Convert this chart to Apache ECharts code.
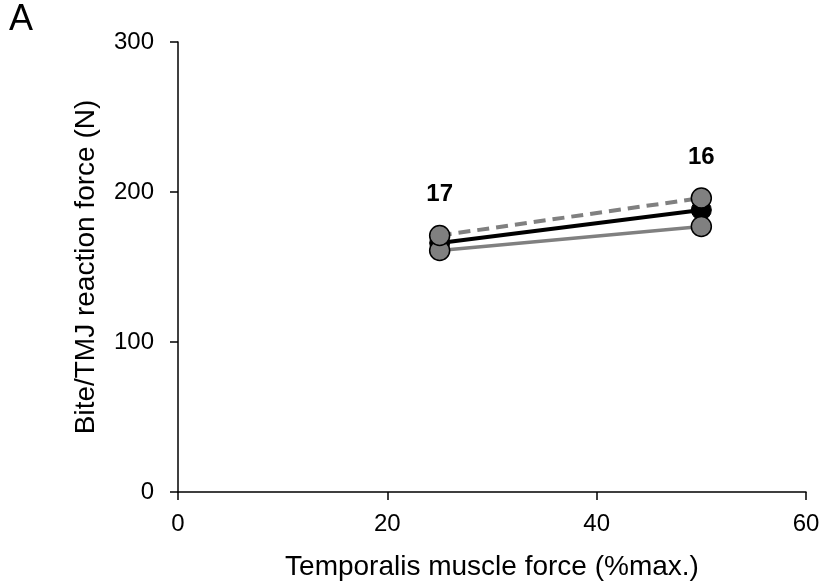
<!DOCTYPE html>
<html><head><meta charset="utf-8">
<script src="https://cdn.jsdelivr.net/npm/echarts@6/dist/echarts.min.js"></script>
<style>html,body{margin:0;padding:0;background:#fff}#c{width:826px;height:587px}</style>
</head><body><div id="c"></div>
<script>
const xValues = [25, 50];
const blackSolid = [166, 188];
const grayDashed = [171, 196];
const graySolid = [161, 177];
const pointLabels = ['17', '16'];
const xTicks = [0, 20, 40, 60];
const yTicks = [0, 100, 200, 300];

const F = 'Liberation Sans, Arial, sans-serif';
const chart = echarts.init(document.getElementById('c'));
function pts(vals, withLabels) {
  return xValues.map((x, i) => {
    const d = { value: [x, vals[i]] };
    if (withLabels) d.label = { show: true, formatter: pointLabels[i] };
    return d;
  });
}
const marker = { color: '#808080', borderColor: '#000', borderWidth: 1.5 };
chart.setOption({
  animation: false,
  grid: { left: 178, top: 42, right: 20, bottom: 95, containLabel: false, outerBoundsMode: 'none' },
  graphic: [{ type: 'text', left: 9, top: 2, style: { text: 'A', font: '36px ' + F, fill: '#000' } }],
  xAxis: {
    type: 'value', min: 0, max: 60, interval: 20,
    name: 'Temporalis muscle force (%max.)', nameLocation: 'middle', nameGap: 61,
    nameTextStyle: { fontFamily: F, fontSize: 28, color: '#000' },
    axisLine: { lineStyle: { color: '#000', width: 1.5 } },
    axisTick: { show: true, length: 8, lineStyle: { color: '#000', width: 1.5 } },
    axisLabel: { fontFamily: F, fontSize: 24, color: '#000', margin: 20 },
    splitLine: { show: false }
  },
  yAxis: {
    type: 'value', min: 0, max: 300, interval: 100,
    name: 'Bite/TMJ reaction force (N)', nameLocation: 'middle', nameGap: 78,
    nameTextStyle: { fontFamily: F, fontSize: 28, color: '#000' },
    axisLine: { show: true, lineStyle: { color: '#000', width: 1.5 } },
    axisTick: { show: true, length: 8, lineStyle: { color: '#000', width: 1.5 } },
    axisLabel: { fontFamily: F, fontSize: 24, color: '#000', margin: 24 },
    splitLine: { show: false }
  },
  series: [
    { type: 'line', data: pts(blackSolid), symbol: 'circle', symbolSize: 20, z: 2,
      lineStyle: { color: '#000', width: 4 }, itemStyle: { color: '#000', borderColor: '#000' } },
    { type: 'line', data: pts(graySolid), symbol: 'circle', symbolSize: 20, z: 3,
      lineStyle: { color: '#808080', width: 3.5 }, itemStyle: marker },
    { type: 'line', data: pts(grayDashed, true), symbol: 'circle', symbolSize: 20, z: 4,
      lineStyle: { color: '#808080', width: 4, type: [12, 7] }, itemStyle: marker,
      label: { position: 'top', distance: 18, fontFamily: F, fontSize: 24, fontWeight: 'bold', color: '#000' } }
  ]
});
</script></body></html>
